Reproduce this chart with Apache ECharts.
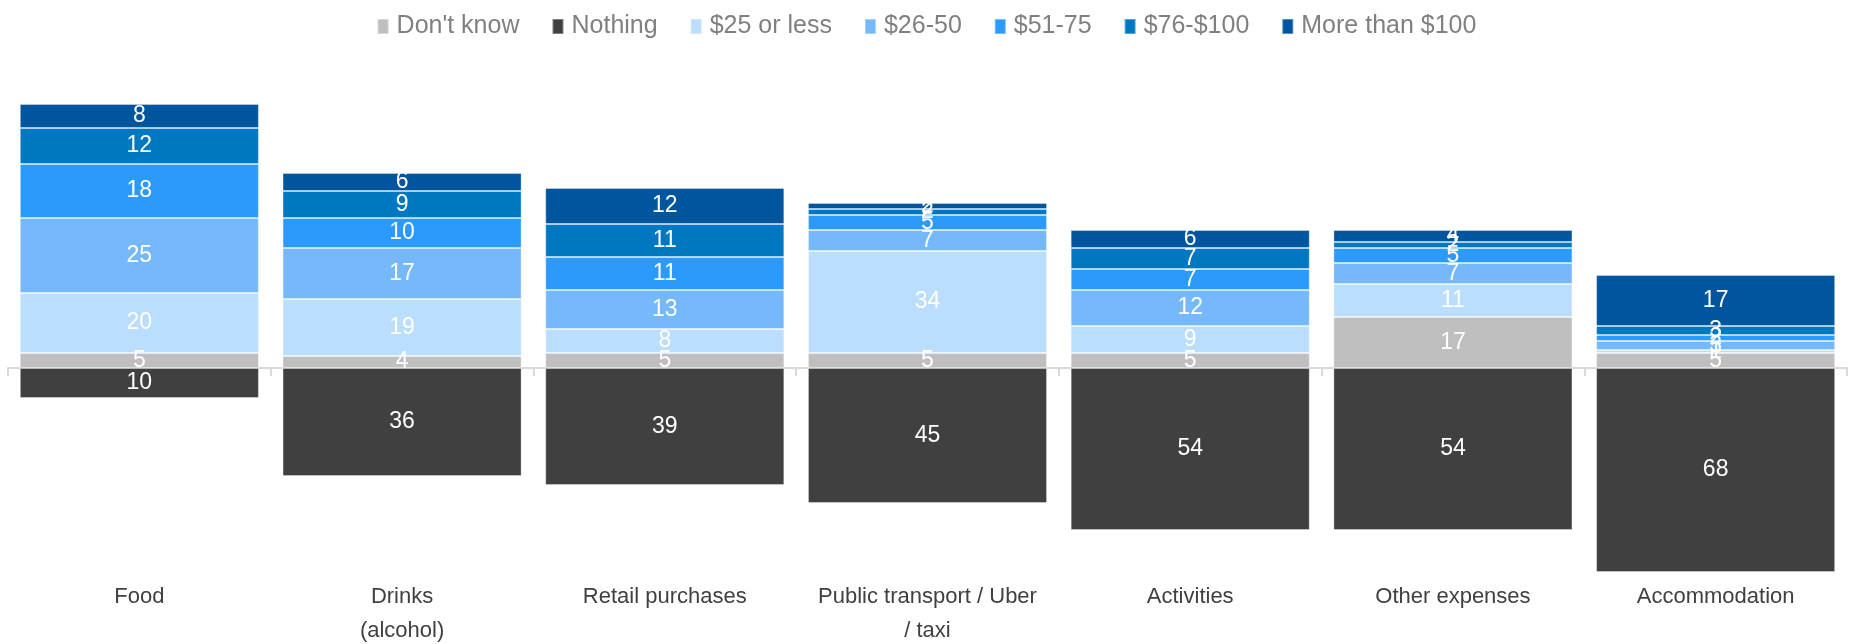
<!DOCTYPE html>
<html>
<head>
<meta charset="utf-8">
<script src="https://cdn.jsdelivr.net/npm/echarts@6/dist/echarts.min.js"></script>
<style>
html,body{margin:0;padding:0;background:#fff;}
#chart{width:1853px;height:644px;}
</style>
</head>
<body>
<div id="chart"></div>
<script>
const categories = ['Food', 'Drinks\n(alcohol)', 'Retail purchases', 'Public transport / Uber\n/ taxi', 'Activities', 'Other expenses', 'Accommodation'];
const dontKnow = [5, 4, 5, 5, 5, 17, 5];
const nothing = [10, 36, 39, 45, 54, 54, 68];
const upTo25 = [20, 19, 8, 34, 9, 11, 1];
const from26to50 = [25, 17, 13, 7, 12, 7, 3];
const from51to75 = [18, 10, 11, 5, 7, 5, 2];
const from76to100 = [12, 9, 11, 2, 7, 2, 3];
const over100 = [8, 6, 12, 2, 6, 4, 17];

const FONT = "'Liberation Sans Narrow', 'Arial Narrow', 'Liberation Sans', Arial, sans-serif";

function mk(name, data, color, negative) {
  return {
    name: name,
    type: 'bar',
    stack: 'total',
    barCategoryGap: '9%',
    data: negative ? data.map(v => -v) : data,
    itemStyle: { color: color, borderColor: 'rgba(255,255,255,0.35)', borderWidth: 1 },
    label: {
      show: true,
      position: 'inside',
      color: '#ffffff',
      fontFamily: FONT,
      fontSize: 23,
      formatter: p => Math.abs(p.value)
    }
  };
}

const chart = echarts.init(document.getElementById('chart'));
chart.setOption({
  animation: false,
  backgroundColor: '#ffffff',
  legend: {
    top: 9,
    left: 'center',
    icon: 'rect',
    itemWidth: 11,
    itemHeight: 15,
    itemGap: 32,
    textStyle: { color: '#808080', fontFamily: FONT, fontSize: 25, padding: [0, 0, 0, 3] },
    data: ["Don't know", 'Nothing', '$25 or less', '$26-50', '$51-75', '$76-$100', 'More than $100']
  },
  grid: { left: 8, right: 6, top: 98, bottom: 66, containLabel: false, outerBoundsMode: 'none' },
  xAxis: [
    {
      type: 'category',
      data: categories,
      position: 'bottom',
      axisLine: { show: false, onZero: false },
      axisTick: { show: false },
      axisLabel: { color: '#404040', fontFamily: FONT, fontSize: 22, lineHeight: 34, margin: 2, interval: 0 }
    },
    {
      type: 'category',
      data: categories,
      position: 'bottom',
      axisLine: { show: true, onZero: true, lineStyle: { color: '#d9d9d9', width: 2 } },
      axisTick: { show: true, length: 8, lineStyle: { color: '#d9d9d9', width: 2 } },
      axisLabel: { show: false }
    }
  ],
  yAxis: {
    type: 'value',
    min: -70,
    max: 90,
    show: false,
    splitLine: { show: false }
  },
  series: [
    mk("Don't know", dontKnow, '#bfbfbf'),
    mk('Nothing', nothing, '#404040', true),
    mk('$25 or less', upTo25, '#bbdefe'),
    mk('$26-50', from26to50, '#75b9fc'),
    mk('$51-75', from51to75, '#2c9afd'),
    mk('$76-$100', from76to100, '#0077c1'),
    mk('More than $100', over100, '#00559f')
  ]
});
</script>
</body>
</html>
